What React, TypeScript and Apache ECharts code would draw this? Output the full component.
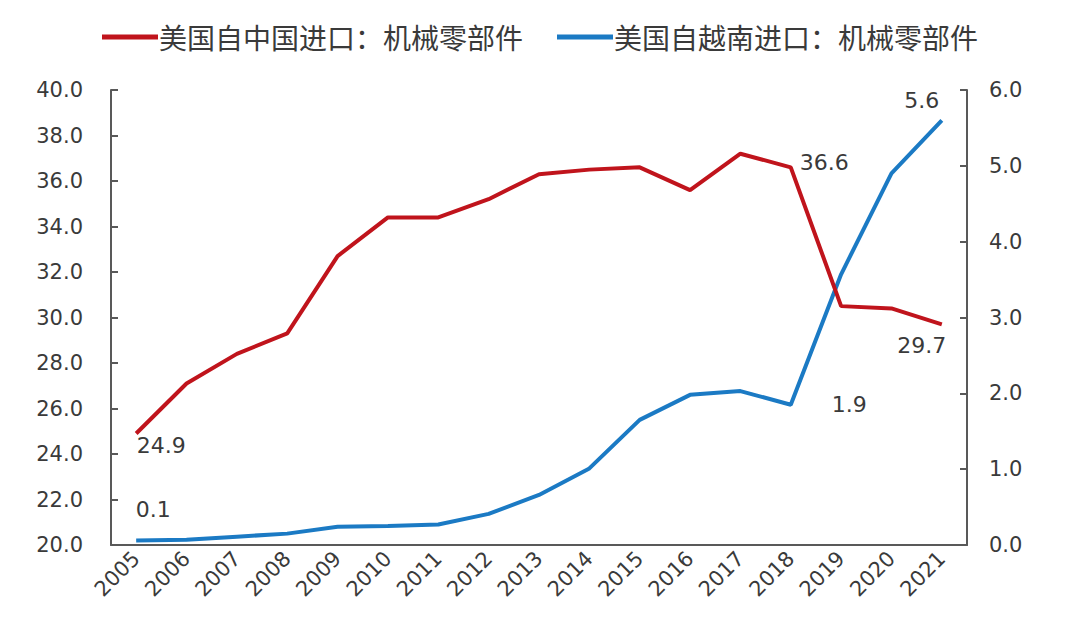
import React, { useEffect, useRef } from "react";
import * as echarts from "echarts";

const years = ["2005","2006","2007","2008","2009","2010","2011","2012","2013","2014","2015","2016","2017","2018","2019","2020","2021"];
const chinaVals = [24.9, 27.1, 28.4, 29.3, 32.7, 34.4, 34.4, 35.2, 36.3, 36.5, 36.6, 35.6, 37.2, 36.6, 30.5, 30.4, 29.7];
const vietnamVals = [0.06, 0.07, 0.11, 0.15, 0.24, 0.25, 0.27, 0.41, 0.66, 1.01, 1.65, 1.98, 2.03, 1.85, 3.57, 4.9, 5.6];
const leftTicks = { min: 20, max: 40, interval: 2 };
const rightTicks = { min: 0, max: 6, interval: 1 };
const seriesNames = ["美国自中国进口：机械零部件", "美国自越南进口：机械零部件"];

const FONT = "DejaVu Sans";
const CJK = "Noto Sans CJK SC";
const TXT = "#3a3a3a";
const AXIS = "#595959";
const RED = "#C0141C";
const BLUE = "#1B7AC4";

const chinaLabels: Record<number, any> = {
  0: { position: "bottom", offset: [25, -4] },
  13: { position: "right", offset: [4, -5] },
  16: { position: "bottom", offset: [-20, 5] },
};
const vietnamLabels: Record<number, any> = {
  0: { position: "top", offset: [17, -15] },
  13: { position: "right", offset: [36, 0] },
  16: { position: "top", offset: [-20, -4] },
};

function buildData(vals: number[], labels: Record<number, any>) {
  return vals.map((v, i) => {
    const l = labels[i];
    if (!l) return v;
    return {
      value: v,
      label: {
        show: true,
        position: l.position,
        offset: l.offset,
        formatter: (p: any) => Number(p.value).toFixed(1),
        fontFamily: FONT,
        fontSize: 22,
        color: TXT,
      },
    };
  });
}

export default function App() {
  const ref = useRef<HTMLDivElement>(null);
  useEffect(() => {
    if (!ref.current) return;
    const chart = echarts.init(ref.current, undefined, { renderer: "svg" });
    chart.setOption({
      animation: false,
      backgroundColor: "#ffffff",
      legend: {
        top: 18,
        left: "center",
        icon: "rect",
        itemWidth: 56,
        itemHeight: 5,
        itemGap: 34,
        textStyle: { fontFamily: CJK, fontSize: 28, color: TXT, padding: [0, 0, 0, -4] },
        data: seriesNames,
      },
      grid: { left: 111, right: 113, top: 90, bottom: 85, containLabel: false },
      xAxis: {
        type: "category",
        data: years,
        boundaryGap: true,
        axisLine: { lineStyle: { color: AXIS, width: 2 } },
        axisTick: { inside: true, length: 6, lineStyle: { color: AXIS, width: 2 } },
        axisLabel: { rotate: 45, fontFamily: FONT, fontSize: 21, color: TXT, margin: 10 },
      },
      yAxis: [
        {
          type: "value",
          min: leftTicks.min,
          max: leftTicks.max,
          interval: leftTicks.interval,
          splitLine: { show: false },
          axisLine: { show: true, lineStyle: { color: AXIS, width: 2 } },
          axisTick: { show: true, inside: true, length: 7, lineStyle: { color: AXIS, width: 2 } },
          axisLabel: { fontFamily: FONT, fontSize: 21, color: TXT, margin: 28, formatter: (v: number) => v.toFixed(1) },
        },
        {
          type: "value",
          min: rightTicks.min,
          max: rightTicks.max,
          interval: rightTicks.interval,
          splitLine: { show: false },
          axisLine: { show: true, lineStyle: { color: AXIS, width: 2 } },
          axisTick: { show: true, inside: true, length: 7, lineStyle: { color: AXIS, width: 2 } },
          axisLabel: { fontFamily: FONT, fontSize: 21, color: TXT, margin: 22, formatter: (v: number) => v.toFixed(1) },
        },
      ],
      series: [
        {
          name: seriesNames[0],
          type: "line",
          yAxisIndex: 0,
          symbol: "circle",
          symbolSize: 0.1,
          showSymbol: true,
          showAllSymbol: true,
          data: buildData(chinaVals, chinaLabels),
          lineStyle: { color: RED, width: 4 },
          itemStyle: { color: RED },
          z: 3,
        },
        {
          name: seriesNames[1],
          type: "line",
          yAxisIndex: 1,
          symbol: "circle",
          symbolSize: 0.1,
          showSymbol: true,
          showAllSymbol: true,
          data: buildData(vietnamVals, vietnamLabels),
          lineStyle: { color: BLUE, width: 4 },
          itemStyle: { color: BLUE },
          z: 2,
        },
      ],
    });
    return () => chart.dispose();
  }, []);
  return <div ref={ref} style={{ width: 1080, height: 630, position: "fixed", left: 0, top: 0 }} />;
}
